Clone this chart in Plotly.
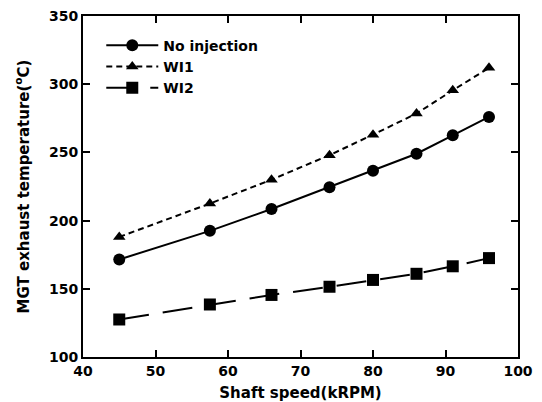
import plotly.graph_objects as go

shaft_speed = [45, 57.5, 66, 74, 80, 86, 91, 96]
no_injection = [171.5, 192.5, 208.5, 224.5, 236.5, 249, 262.5, 276]
wi1 = [188, 212.5, 230, 248, 263, 278.5, 295.5, 312]
wi2 = [127.5, 138.5, 145.5, 151.5, 156.5, 161, 166.5, 172.5]

FONT = "DejaVu Sans, Arial, sans-serif"

fig = go.Figure()
fig.add_trace(go.Scatter(
    x=shaft_speed, y=no_injection, name="No injection", mode="lines+markers",
    line=dict(color="black", width=2, dash="solid"),
    marker=dict(symbol="circle", size=12, color="black")))
fig.add_trace(go.Scatter(
    x=shaft_speed, y=wi1, name="WI1", mode="lines+markers",
    line=dict(color="black", width=2, dash="6px,4px"),
    marker=dict(symbol="triangle-up", size=11, color="black")))
fig.add_trace(go.Scatter(
    x=shaft_speed, y=wi2, name="WI2", mode="lines+markers",
    line=dict(color="black", width=2, dash="30px,14px"),
    marker=dict(symbol="square", size=12, color="black")))

axis_common = dict(
    showline=True, linecolor="black", linewidth=2, mirror="ticks",
    ticks="inside", ticklen=7, tickwidth=2, tickcolor="black",
    showgrid=False, zeroline=False, automargin=False,
    ticklabeloverflow="allow",
    tickfont=dict(family=FONT, size=14, color="black", weight="bold"),
)

fig.update_xaxes(
    range=[40, 100], dtick=10, tick0=40,
    title=dict(text="Shaft speed(kRPM)", font=dict(family=FONT, size=15, color="black", weight="bold"), standoff=10),
    **axis_common)
fig.update_yaxes(
    range=[100, 350], dtick=50, tick0=100,
    title=dict(text="MGT exhaust temperature(<sup>o</sup>C)", font=dict(family=FONT, size=15, color="black", weight="bold"), standoff=16),
    **axis_common)

fig.update_layout(
    width=542, height=402,
    margin=dict(l=75, r=32, t=8, b=53),
    paper_bgcolor="white", plot_bgcolor="white",
    showlegend=True,
    legend=dict(
        x=0.042, y=0.96, xanchor="left", yanchor="top",
        bgcolor="rgba(0,0,0,0)", borderwidth=0,
        font=dict(family=FONT, size=14, color="black", weight="bold"),
        itemwidth=52, tracegroupgap=0,
    ),
)

fig.write_html("out.html")
